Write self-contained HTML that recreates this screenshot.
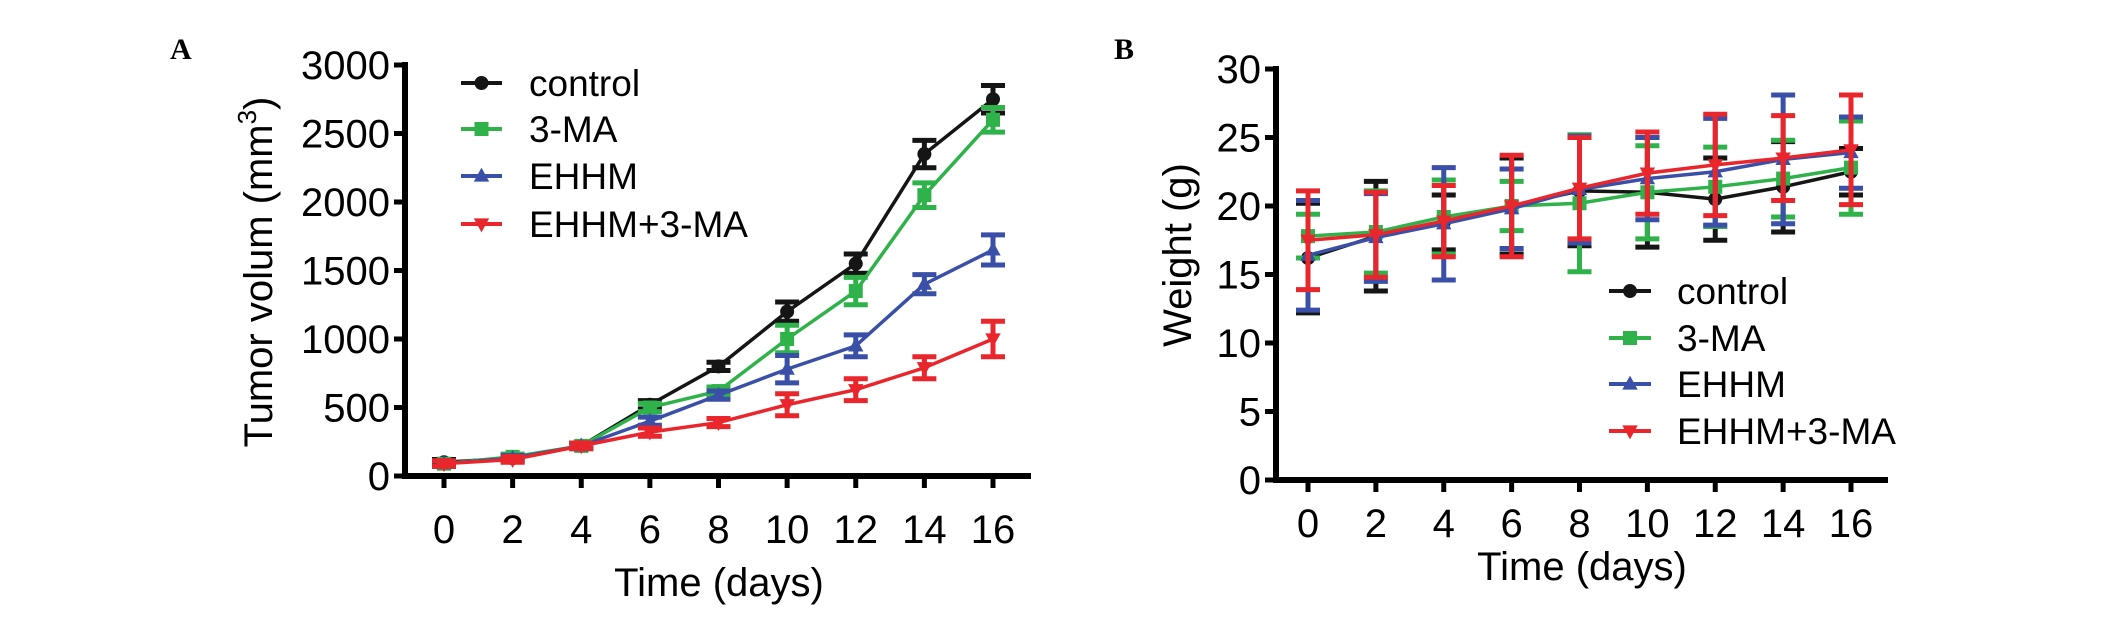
<!DOCTYPE html>
<html><head><meta charset="utf-8"><style>
html,body{margin:0;padding:0;background:#fff;}
svg{display:block;font-family:"Liberation Sans",Arial,sans-serif;}
</style></head><body>
<svg id="fig" width="2126" height="617" viewBox="0 0 2126 617" xmlns="http://www.w3.org/2000/svg">
<g id="panelA"></g>
<g id="panelB"></g>
</svg>
<script>
const days = [0,2,4,6,8,10,12,14,16];
const seriesNames = ["control","3-MA","EHHM","EHHM+3-MA"];
const seriesColors = ["#151515","#2fb24a","#3a4fa8","#e8262c"];
const seriesMarkers = ["circle","square","up","down"];
// Panel A: tumor volume (mm3)
const volControl = [100,130,220,520,800,1200,1550,2350,2750];
const volControlErr = [20,20,20,30,30,70,70,100,100];
const vol3MA = [90,140,220,500,620,1000,1350,2050,2600];
const vol3MAErr = [20,20,20,30,30,100,100,90,90];
const volEHHM = [90,130,220,400,590,780,950,1400,1650];
const volEHHMErr = [20,20,20,30,30,100,80,70,110];
const volCombo = [90,120,220,320,390,520,630,790,1000];
const volComboErr = [20,20,20,30,30,80,80,80,130];
const volTicks = [0,500,1000,1500,2000,2500,3000];
// Panel B: weight (g)
const wControl = [16.2,17.8,18.8,20.0,21.1,21.0,20.5,21.4,22.5];
const wControlErr = [4,4,2,3.5,4,4,3,3.3,1.7];
const w3MA = [17.8,18.1,19.2,20.0,20.2,21.0,21.4,22.0,22.8];
const w3MAErr = [1.6,3,2.7,1.8,5,3.4,2.9,2.8,3.4];
const wEHHM = [16.4,17.7,18.7,19.8,21.2,22.0,22.5,23.4,23.9];
const wEHHMErr = [4,3.2,4.1,2.9,3.9,3,3.9,4.7,2.6];
const wCombo = [17.5,17.9,18.9,20.0,21.3,22.4,23.0,23.5,24.1];
const wComboErr = [3.6,3.1,2.6,3.7,3.7,3,3.7,3.1,4];
const wTicks = [0,5,10,15,20,25,30];

const NS="http://www.w3.org/2000/svg";
function mk(parent,tag,attrs,text){const e=document.createElementNS(NS,tag);for(const k in attrs)e.setAttribute(k,attrs[k]);if(text!==undefined)e.textContent=text;parent.appendChild(e);return e;}
function marker(g,type,x,y,c,r){
  let e;
  if(type==="circle") e=mk(g,"circle",{cx:x,cy:y,r:r,fill:c});
  else if(type==="square") e=mk(g,"rect",{x:x-r,y:y-r,width:2*r,height:2*r,fill:c});
  else if(type==="up") e=mk(g,"polygon",{points:`${x},${y-r*1.2} ${x-r*1.1},${y+r*0.8} ${x+r*1.1},${y+r*0.8}`,fill:c});
  else e=mk(g,"polygon",{points:`${x},${y+r*1.2} ${x-r*1.1},${y-r*0.8} ${x+r*1.1},${y-r*0.8}`,fill:c});
  return e;
}
function drawPanel(g,cfg){
  const sx=d=>cfg.x0+(d-days[0])/(days[days.length-1]-days[0])*(cfg.x16-cfg.x0);
  const sy=v=>cfg.yBase+(v-cfg.yMin)/(cfg.yMax-cfg.yMin)*(cfg.yTop-cfg.yBase);
  // letter
  let t=mk(g,"text",{x:cfg.letterX,y:cfg.letterY,"font-family":"Liberation Serif,serif","font-weight":"bold","font-size":30},cfg.letter);
  
  
  // axes
  let ya=mk(g,"line",{x1:cfg.axisX,y1:sy(cfg.yMax)-3,x2:cfg.axisX,y2:cfg.yBase+3,stroke:"#000","stroke-width":6});
  
  
  let xa=mk(g,"line",{x1:cfg.axisX-3,y1:cfg.yBase,x2:cfg.axisEnd,y2:cfg.yBase,stroke:"#000","stroke-width":6});
  
  
  cfg.ticks.forEach(v=>{
    const y=sy(v);
    mk(g,"line",{x1:cfg.axisX-11,y1:y,x2:cfg.axisX,y2:y,stroke:"#000","stroke-width":5});
    let l=mk(g,"text",{x:cfg.axisX-15,y:y+14,"text-anchor":"end","font-size":40},String(v));
    
    
  });
  days.forEach(d=>{
    const x=sx(d);
    mk(g,"line",{x1:x,y1:cfg.yBase,x2:x,y2:cfg.yBase+12,stroke:"#000","stroke-width":5});
    let l=mk(g,"text",{x:x,y:cfg.tickLabelY,"text-anchor":"middle","font-size":40},String(d));
    
    
  });
  let xt=mk(g,"text",{x:cfg.xTitleX,y:cfg.xTitleY,"text-anchor":"middle","font-size":40},"Time (days)");
  
  
  let yt=mk(g,"text",{x:0,y:0,"text-anchor":"middle","font-size":40,transform:`translate(${cfg.yTitleX},${cfg.yTitleY}) rotate(-90)`});
  
  
  yt.textContent=cfg.yTitle;
  if(cfg.sup){mk(yt,"tspan",{"font-size":26,dy:-16},"3");mk(yt,"tspan",{dy:16},")");}
  // series
  cfg.series.forEach((vals,i)=>{
    const sg=mk(g,"g",{});
    
    
    const c=seriesColors[i],err=cfg.errs[i];
    const pts=vals.map((v,k)=>sx(days[k])+","+sy(v)).join(" ");
    mk(sg,"polyline",{points:pts,fill:"none",stroke:c,"stroke-width":3.5});
    vals.forEach((v,k)=>{
      const x=sx(days[k]),y1=sy(v+err[k]),y2=sy(v-err[k]);
      const eb=mk(sg,"path",{d:`M${x},${y1}V${y2}M${x-12},${y1}H${x+12}M${x-12},${y2}H${x+12}`,stroke:c,"stroke-width":5,fill:"none"});
      
      
      const m=marker(sg,seriesMarkers[i],x,sy(v),c,7);
      
      
    });
  });
  // legend
  const lg=mk(g,"g",{});
  
  
  seriesNames.forEach((n,i)=>{
    const y=cfg.legY[i];
    const eg=mk(lg,"g",{});
    
    
    mk(eg,"line",{x1:cfg.legX1,y1:y,x2:cfg.legX2,y2:y,stroke:seriesColors[i],"stroke-width":4});
    marker(eg,seriesMarkers[i],(cfg.legX1+cfg.legX2)/2,y,seriesColors[i],7);
    mk(eg,"text",{x:cfg.legTextX,y:y+13,"font-size":37},n);
  });
}
drawPanel(document.getElementById("panelA"),{
  letter:"A",letterX:170,letterY:59,axisX:405,axisEnd:1031,x0:444,x16:993,
  yBase:476,yTop:65,yMin:0,yMax:3000,ticks:volTicks,tickLabelY:543,
  xTitleX:719,xTitleY:596,yTitleX:272,yTitleY:272,yTitle:"Tumor volum (mm",sup:true,
  series:[volControl,vol3MA,volEHHM,volCombo],errs:[volControlErr,vol3MAErr,volEHHMErr,volComboErr],
  legY:[83,129,176,224],legX1:461,legX2:502,legTextX:529
});
drawPanel(document.getElementById("panelB"),{
  letter:"B",letterX:1114,letterY:59,axisX:1276,axisEnd:1888,x0:1308,x16:1851,
  yBase:480,yTop:69,yMin:0,yMax:30,ticks:wTicks,tickLabelY:537,
  xTitleX:1582,xTitleY:580,yTitleX:1191,yTitleY:255,yTitle:"Weight (g)",sup:false,
  series:[wControl,w3MA,wEHHM,wCombo],errs:[wControlErr,w3MAErr,wEHHMErr,wComboErr],
  legY:[291,338,384,431],legX1:1609,legX2:1651,legTextX:1677
});
</script>
</body></html>
